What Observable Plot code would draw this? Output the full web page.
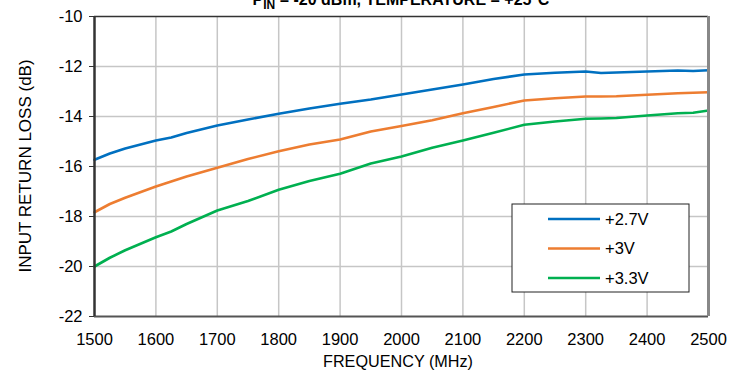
<!DOCTYPE html>
<html>
<head>
<meta charset="utf-8">
<script src="https://cdn.jsdelivr.net/npm/d3@7"></script>
<script src="https://cdn.jsdelivr.net/npm/@observablehq/plot@0.6"></script>
<style>
  html, body { margin: 0; padding: 0; background: #fff; }
  #chart svg { display: block; }
</style>
</head>
<body>
<div id="chart"></div>
<script>
// ---- Data ----
const freq = [1500, 1525, 1550, 1600, 1625, 1650, 1700, 1750, 1800, 1850, 1900, 1950, 2000, 2050, 2100, 2150, 2200, 2250, 2300, 2325, 2350, 2400, 2450, 2475, 2500];
const loss27 = [-15.73, -15.48, -15.28, -14.96, -14.84, -14.66, -14.36, -14.12, -13.89, -13.68, -13.49, -13.32, -13.12, -12.92, -12.72, -12.50, -12.32, -12.25, -12.20, -12.26, -12.24, -12.20, -12.16, -12.18, -12.15];
const loss30 = [-17.83, -17.50, -17.25, -16.80, -16.60, -16.40, -16.05, -15.70, -15.39, -15.12, -14.92, -14.60, -14.38, -14.15, -13.87, -13.62, -13.36, -13.27, -13.20, -13.20, -13.19, -13.13, -13.07, -13.05, -13.03];
const loss33 = [-20.00, -19.65, -19.35, -18.83, -18.60, -18.30, -17.76, -17.38, -16.93, -16.58, -16.29, -15.88, -15.60, -15.25, -14.96, -14.65, -14.33, -14.20, -14.09, -14.08, -14.06, -13.96, -13.87, -13.85, -13.76];
const seriesNames = ["+2.7V", "+3V", "+3.3V"];
const seriesColors = ["#0070c0", "#ed7d31", "#00b050"];
const xTicks = [1500, 1600, 1700, 1800, 1900, 2000, 2100, 2200, 2300, 2400, 2500];
const yTicks = [-22, -20, -18, -16, -14, -12, -10];
const xDomain = [1500, 2500];
const yDomain = [-22, -10];
const titleMain = "P";
const titleSub = "IN";
const titleRest = " = -20 dBm, TEMPERATURE = +25°C";
const xLabel = "FREQUENCY (MHz)";
const yLabel = "INPUT RETURN LOSS (dB)";

const rows = [];
[loss27, loss30, loss33].forEach((arr, i) => {
  arr.forEach((v, j) => rows.push({freq: freq[j], loss: v, series: seriesNames[i]}));
});

const W = 743, H = 373;
const mL = 94, mR = 35, mT = 16, mB = 57;
const FONT = "'Liberation Sans', Arial, sans-serif";

const chart = Plot.plot({
  width: W,
  height: H,
  marginLeft: mL,
  marginRight: mR,
  marginTop: mT,
  marginBottom: mB,
  style: {fontFamily: FONT, fontSize: "16.5px", color: "#000", background: "#fff", overflow: "visible"},
  x: {domain: xDomain},
  y: {domain: yDomain},
  color: {domain: seriesNames, range: seriesColors},
  marks: [
    Plot.gridX(xTicks.slice(1, -1), {stroke: "#c6c6c6", strokeOpacity: 1, strokeWidth: 1.5}),
    Plot.gridY(yTicks.slice(1, -1), {stroke: "#c6c6c6", strokeOpacity: 1, strokeWidth: 1.5}),
    Plot.axisX(xTicks, {tickSize: 0, tickPadding: 17, label: null, tickFormat: d => String(d), fontSize: 16.5}),
    Plot.axisY(yTicks, {tickSize: 5, tickPadding: 7, label: null, tickFormat: d => String(d), fontSize: 16.5, stroke: "#333"}),
    Plot.line(rows, {x: "freq", y: "loss", stroke: "series", strokeWidth: 2.6, curve: "linear"}),
    Plot.ruleY(yDomain.slice(1), {stroke: "#333", strokeWidth: 1.5}),
    Plot.ruleY(yDomain.slice(0, 1), {stroke: "#555", strokeWidth: 2}),
    Plot.ruleX(xDomain.slice(1), {stroke: "#888", strokeWidth: 3}),
    Plot.ruleX(xDomain.slice(0, 1), {stroke: "#333", strokeWidth: 2.5})
  ]
});

document.getElementById("chart").appendChild(chart);

const svg = d3.select(chart);
// Axis labels
svg.append("text")
  .attr("x", 398).attr("y", 367)
  .attr("text-anchor", "middle")
  .attr("font-family", FONT).attr("font-size", 16.2).attr("fill", "#000")
  .text(xLabel);
svg.append("text")
  .attr("transform", "translate(31,166) rotate(-90)")
  .attr("text-anchor", "middle")
  .attr("font-family", FONT).attr("font-size", 17).attr("fill", "#000")
  .text(yLabel);

// Title (top partly cut off, as in the reference)
const cx = mL + (W - mL - mR) / 2;
const t = svg.append("text")
  .attr("x", cx).attr("y", 5)
  .attr("text-anchor", "middle")
  .attr("font-family", FONT)
  .attr("font-weight", "bold")
  .attr("font-size", 16)
  .attr("fill", "#000");
t.append("tspan").text(titleMain);
t.append("tspan").attr("dy", 4).attr("font-size", 12).text(titleSub);
t.append("tspan").attr("dy", -4).text(titleRest);

// Legend
const lg = svg.append("g").attr("transform", `translate(512,204)`);
lg.append("rect").attr("x", 0).attr("y", 0).attr("width", 177).attr("height", 88)
  .attr("fill", "#fff").attr("stroke", "#222").attr("stroke-width", 1);
seriesNames.forEach((name, i) => {
  const yy = 15 + i * 29.5;
  lg.append("line").attr("x1", 36).attr("x2", 88).attr("y1", yy).attr("y2", yy)
    .attr("stroke", seriesColors[i]).attr("stroke-width", 2.6);
  lg.append("text").attr("x", 93).attr("y", yy).attr("dy", "0.35em")
    .attr("text-anchor", "start")
    .attr("font-family", FONT).attr("font-size", 16.5)
    .attr("fill", "#000").text(name);
});
</script>
</body>
</html>
